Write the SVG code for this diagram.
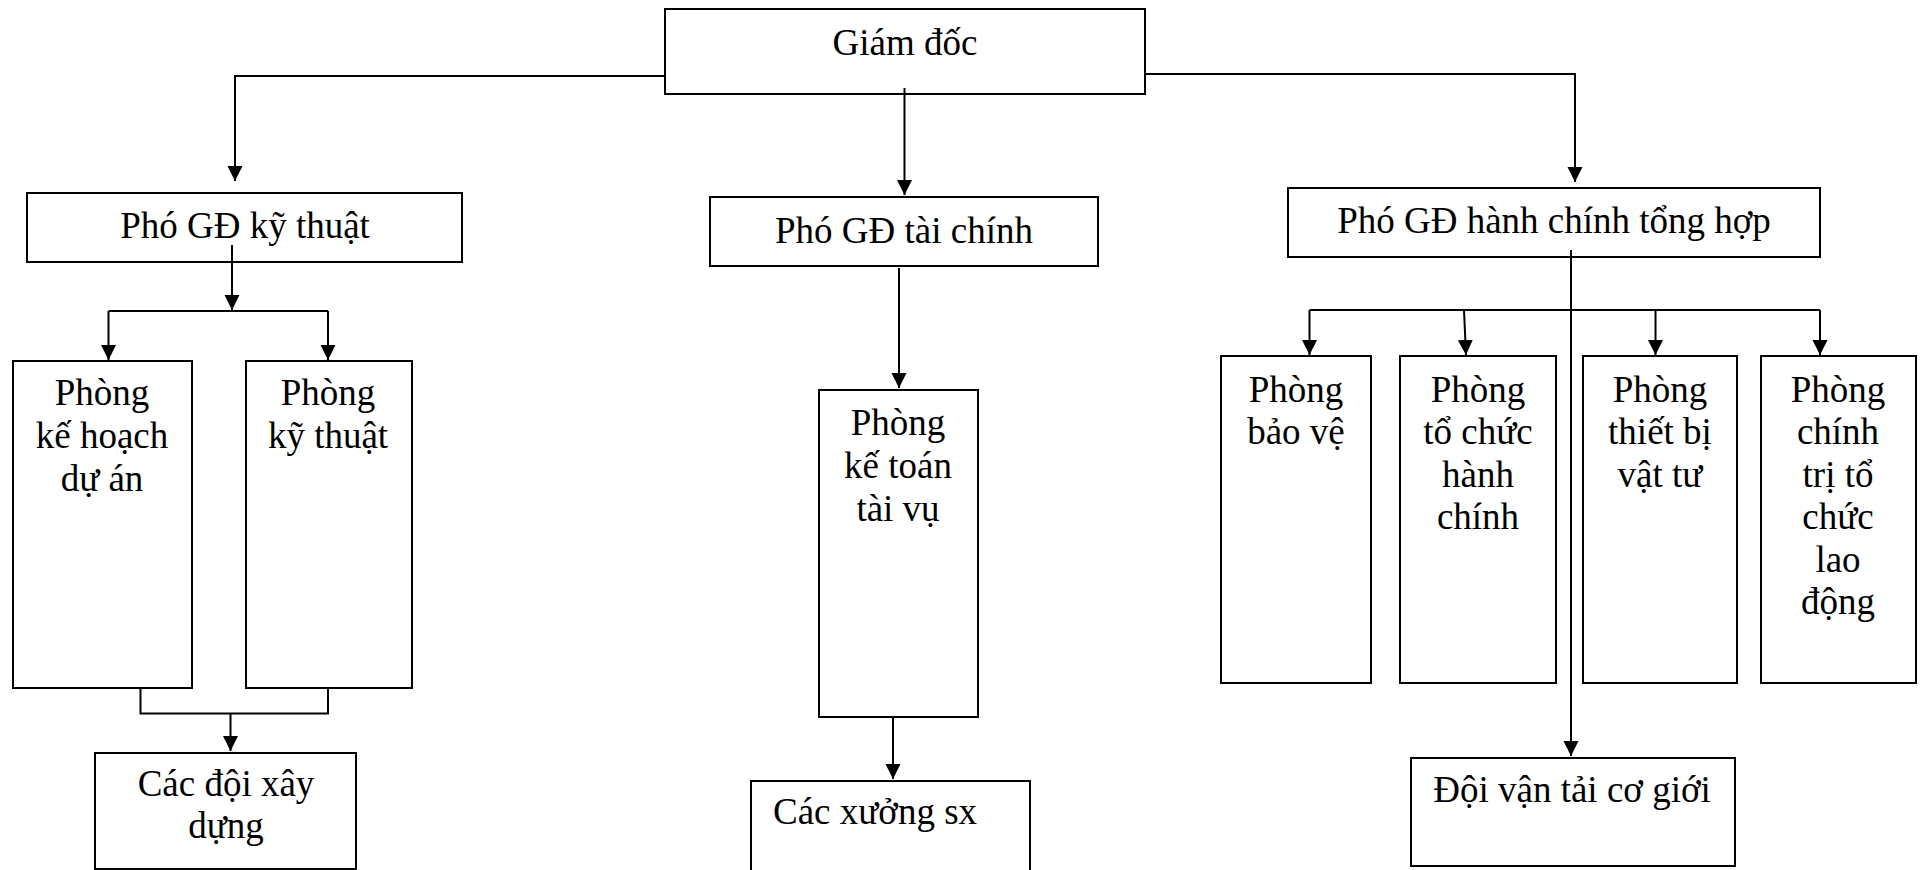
<svg xmlns="http://www.w3.org/2000/svg" width="1921" height="870" viewBox="0 0 1921 870">
<style>
.box{fill:#fff;stroke:#000;stroke-width:2}
.t{font-family:"Liberation Serif","Times New Roman",serif;font-size:37px;fill:#000;text-anchor:middle}
.c{fill:none;stroke:#000;stroke-width:2}
</style>
<defs>
<marker id="ah" markerUnits="userSpaceOnUse" markerWidth="16" markerHeight="16" refX="15" refY="7.5" orient="auto">
<path d="M0,0 L15,7.5 L0,15 z" fill="#000"/>
</marker>
</defs>
<rect width="1921" height="870" fill="#fff"/>
<g id="n-giamdoc"><rect class="box" x="665" y="9" width="480" height="85"/><text class="t" x="905" y="55">Giám đốc</text></g>
<g id="n-pgd-kt"><rect class="box" x="27" y="193" width="435" height="69"/><text class="t" x="245" y="238">Phó GĐ kỹ thuật</text></g>
<g id="n-pgd-tc"><rect class="box" x="710" y="197" width="388" height="69"/><text class="t" x="904" y="243">Phó GĐ tài chính</text></g>
<g id="n-pgd-hc"><rect class="box" x="1288" y="188" width="532" height="69"/><text class="t" x="1554" y="233">Phó GĐ hành chính tổng hợp</text></g>
<g id="n-khda"><rect class="box" x="13" y="361" width="179" height="327"/><text class="t" x="102" y="405">Phòng</text><text class="t" x="102" y="448">kế hoạch</text><text class="t" x="102" y="491">dự án</text></g>
<g id="n-kythuat"><rect class="box" x="246" y="361" width="166" height="327"/><text class="t" x="328" y="405">Phòng</text><text class="t" x="328" y="448">kỹ thuật</text></g>
<g id="n-doixd"><rect class="box" x="95" y="753" width="261" height="116"/><text class="t" x="226" y="796">Các đội xây</text><text class="t" x="226" y="838">dựng</text></g>
<g id="n-ketoan"><rect class="box" x="819" y="390" width="159" height="327"/><text class="t" x="898" y="435">Phòng</text><text class="t" x="898" y="478">kế toán</text><text class="t" x="898" y="521">tài vụ</text></g>
<g id="n-xuong"><rect class="box" x="751" y="781" width="279" height="95"/><text class="t" x="773" y="824" style="text-anchor:start">Các xưởng sx</text></g>
<g id="n-baove"><rect class="box" x="1221" y="356" width="150" height="327"/><text class="t" x="1296" y="402">Phòng</text><text class="t" x="1296" y="444">bảo vệ</text></g>
<g id="n-tchc"><rect class="box" x="1400" y="356" width="156" height="327"/><text class="t" x="1478" y="402">Phòng</text><text class="t" x="1478" y="444">tổ chức</text><text class="t" x="1478" y="487">hành</text><text class="t" x="1478" y="529">chính</text></g>
<g id="n-tbvt"><rect class="box" x="1583" y="356" width="154" height="327"/><text class="t" x="1660" y="402">Phòng</text><text class="t" x="1660" y="444">thiết bị</text><text class="t" x="1660" y="487">vật tư</text></g>
<g id="n-cttc"><rect class="box" x="1761" y="356" width="155" height="327"/><text class="t" x="1838" y="402">Phòng</text><text class="t" x="1838" y="444">chính</text><text class="t" x="1838" y="487">trị tổ</text><text class="t" x="1838" y="529">chức</text><text class="t" x="1838" y="572">lao</text><text class="t" x="1838" y="614">động</text></g>
<g id="n-vantai"><rect class="box" x="1411" y="758" width="324" height="108"/><text class="t" x="1572" y="802">Đội vận tải cơ giới</text></g>
<g id="connectors">
<path class="c" d="M665,76 H235 V181" marker-end="url(#ah)"/>
<path class="c" d="M904.5,88 V195" marker-end="url(#ah)"/>
<path class="c" d="M1145,74 H1575 V182" marker-end="url(#ah)"/>
<path class="c" d="M232,245 V310" marker-end="url(#ah)"/>
<path class="c" d="M108.5,311 H328"/>
<path class="c" d="M108.5,311 V360" marker-end="url(#ah)"/>
<path class="c" d="M328,311 V360" marker-end="url(#ah)"/>
<path class="c" d="M140.5,688 V713.5 H328 V688"/>
<path class="c" d="M230.5,713.5 V751" marker-end="url(#ah)"/>
<path class="c" d="M899,268 V388" marker-end="url(#ah)"/>
<path class="c" d="M893,717 V779" marker-end="url(#ah)"/>
<path class="c" d="M1571,250 V756" marker-end="url(#ah)"/>
<path class="c" d="M1309.5,310 H1820"/>
<path class="c" d="M1309.5,310 V355" marker-end="url(#ah)"/>
<path class="c" d="M1464,310 L1466,355" marker-end="url(#ah)"/>
<path class="c" d="M1655.5,310 V355" marker-end="url(#ah)"/>
<path class="c" d="M1820,310 V355" marker-end="url(#ah)"/>
</g>
</svg>
